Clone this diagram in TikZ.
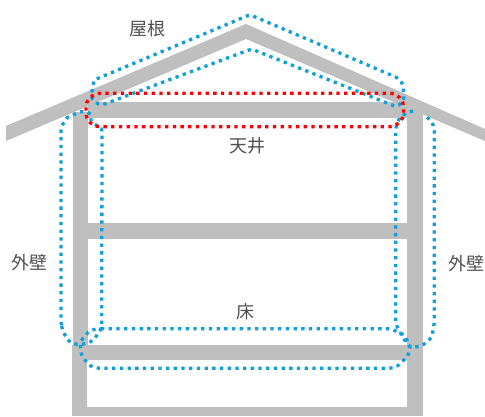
\documentclass[tikz,border=0pt]{standalone}
\usepackage{fontspec}
\newfontfamily\jpfont{Noto Sans CJK JP}
\definecolor{struct}{HTML}{BFBFBF}
\definecolor{dotblue}{HTML}{0F9FDB}
\definecolor{dotred}{HTML}{FF0000}
\definecolor{labelgray}{HTML}{505050}
\tikzset{
  member/.style={fill=struct,draw=none},
  bluedots/.style={draw=dotblue,line width=3.3pt,dash pattern=on 3.3pt off 4.4pt,rounded corners=3pt},
  reddots/.style={draw=dotred,line width=3.3pt,dash pattern=on 3.3pt off 4.4pt},
  lbl/.style={text=labelgray,font=\jpfont\fontsize{18}{18}\selectfont,inner sep=0pt}
}
\begin{document}
\begin{tikzpicture}[x=1pt,y=-1pt]
\useasboundingbox (0,0) rectangle (485,416);
% structure
\fill[member] (6,126) -- (246,24) -- (485,129) -- (485,141) -- (246,39) -- (6,141) -- cycle;
\fill[member] (73,112) rectangle (88,345);
\fill[member] (71.5,345) rectangle (86.5,416);
\fill[member] (407,105) rectangle (423,416);
\fill[member] (88,102) rectangle (407,118);
\fill[member] (88,223) rectangle (407,239);
\fill[member] (86.5,345) rectangle (407,360);
\fill[member] (86.5,407) rectangle (407,416);
% roof zone
\draw[bluedots] (94,80) -- (250,14.7) -- (398,78) -- (403,84) -- (404,100) -- (397,107) -- (251.5,49) -- (102,105) -- (95,102.7) -- (90.7,96.7) -- (92.7,88) -- cycle;
% left wall zone
\draw[bluedots] (61,323) -- (63,332) -- (70,342.7) -- (80,345) -- (93,341) -- (101.7,328) -- (102,128) -- (96.7,125.7) -- (90,120.7) -- (92,114) -- (82,111) -- (66,118) -- (61,128) -- cycle;
% right wall zone
\draw[bluedots] (413,111) -- (405.7,113) -- (398,120) -- (395.7,128) -- (395.7,324) -- (403,337.7) -- (410,347.7) -- (421.7,346) -- (431.7,337.7) -- (434.3,323) -- (434.3,128) -- (431.7,121.7) -- (426.7,116.7);
% floor zone
\draw[bluedots] (98,328.7) -- (390,328.7) -- (403,334) -- (410.7,346) -- (408,356) -- (396.7,367) -- (390,368.3) -- (98,368.3) -- (90,366) -- (81.7,356) -- (80,344) -- (83,337.7) -- (90,330.5) -- cycle;
% ceiling zone
\draw[reddots,rounded corners=14pt] (86,93.3) rectangle (403.5,126.7);
% labels
\node[lbl] (roof) at (147.5,29) {屋根};
\node[lbl] (ceiling) at (247.5,146) {天井};
\node[lbl] (wallL) at (30,263) {外壁};
\node[lbl] (wallR) at (466.5,264) {外壁};
\node[lbl] (floor) at (245,312) {床};
\end{tikzpicture}
\end{document}
